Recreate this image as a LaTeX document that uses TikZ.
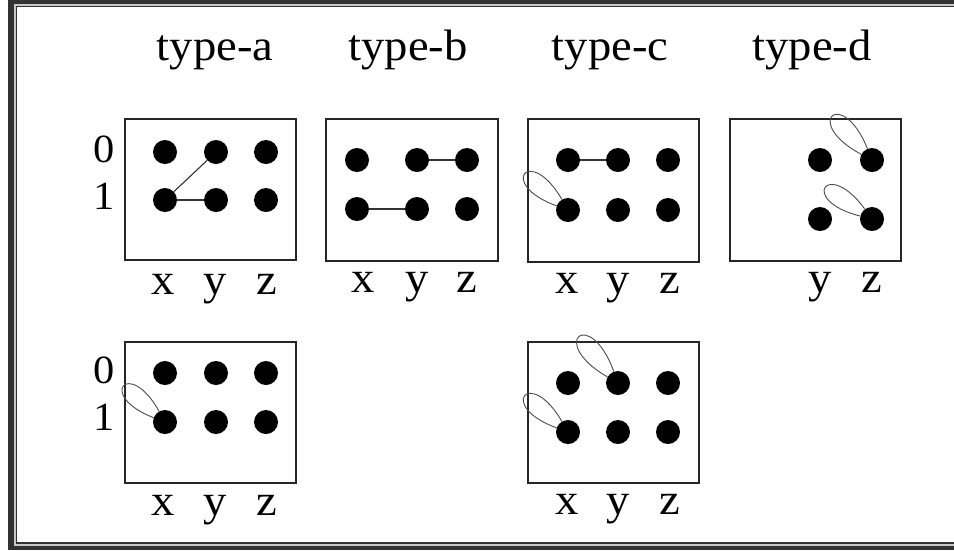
\documentclass[tikz,border=0pt]{standalone}
\usepackage{fontspec}
\newfontfamily\lblfont[FakeStretch=1.06]{Liberation Serif}
\definecolor{framedark}{HTML}{333333}
\definecolor{framelight}{HTML}{C8C8C8}
\begin{document}
\begin{tikzpicture}[x=1pt,y=-1pt,
  dot/.style={circle,fill=black,inner sep=0pt,minimum size=24pt},
  box/.style={draw=black!85,line width=1.4pt},
  link/.style={draw=black!80,line width=1.1pt},
  lp/.style={draw=black!70,line width=0.9pt},
  ttl/.style={font=\lblfont\fontsize{44}{44}\selectfont,anchor=base,inner sep=0pt},
  axl/.style={font=\lblfont\fontsize{44}{44}\selectfont,anchor=base,inner sep=0pt},
  dig/.style={font=\lblfont\fontsize{40}{40}\selectfont,anchor=base,inner sep=0pt}]
\useasboundingbox (0,0) rectangle (954,550);
% frame
\fill[white] (0,0) rectangle (954,550);
\fill[framedark] (8,0) rectangle (954,550);
\fill[framelight] (14,4) rectangle (954,545.5);
\fill[framedark] (15.5,5.8) rectangle (954,543.6);
\fill[white] (17,7.2) rectangle (954,542.2);
% titles
\node[ttl] (ta) at (215,60) {type-a};
\node[ttl] (tb) at (408,60) {type-b};
\node[ttl] (tc) at (610,60) {type-c};
\node[ttl] (td) at (812,60) {type-d};
% boxes
\draw[box] (125,119) rectangle (296,260);
\draw[box] (326,119) rectangle (498,261);
\draw[box] (528,119) rectangle (699,262);
\draw[box] (730,119) rectangle (901,261);
\draw[box] (125,342) rectangle (296,483);
\draw[box] (528,342) rectangle (699,483);
% digits
\node[dig] (a0) at (104,162) {0};
\node[dig] (a1) at (104,209) {1};
\node[dig] (e0) at (104,383) {0};
\node[dig] (e1) at (104,430) {1};
% axis labels
\node[axl] (alx) at (163,294) {x};
\node[axl] (aly) at (215,294) {y};
\node[axl] (alz) at (267,294) {z};
\node[axl] (blx) at (363,292) {x};
\node[axl] (bly) at (417,292) {y};
\node[axl] (blz) at (467,292) {z};
\node[axl] (clx) at (567,293) {x};
\node[axl] (cly) at (618,293) {y};
\node[axl] (clz) at (670,293) {z};
\node[axl] (dly) at (820,292) {y};
\node[axl] (dlz) at (872,292) {z};
\node[axl] (elx) at (163,515) {x};
\node[axl] (ely) at (215,515) {y};
\node[axl] (elz) at (267,515) {z};
\node[axl] (flx) at (567,514) {x};
\node[axl] (fly) at (618,514) {y};
\node[axl] (flz) at (670,514) {z};
% dots type-a
\node[dot] (ax0) at (165,152) {};
\node[dot] (ay0) at (216,152) {};
\node[dot] (az0) at (266,152) {};
\node[dot] (ax1) at (165,200) {};
\node[dot] (ay1) at (216,200) {};
\node[dot] (az1) at (266,200) {};
% dots type-b
\node[dot] (bx0) at (357,160) {};
\node[dot] (by0) at (417,160) {};
\node[dot] (bz0) at (467,160) {};
\node[dot] (bx1) at (357,209) {};
\node[dot] (by1) at (417,209) {};
\node[dot] (bz1) at (467,209) {};
% dots type-c
\node[dot] (cx0) at (568,160) {};
\node[dot] (cy0) at (618,160) {};
\node[dot] (cz0) at (668,160) {};
\node[dot] (cx1) at (568,210) {};
\node[dot] (cy1) at (618,210) {};
\node[dot] (cz1) at (668,210) {};
% dots type-d
\node[dot] (dy0) at (820,160) {};
\node[dot] (dz0) at (872,160) {};
\node[dot] (dy1) at (820,219) {};
\node[dot] (dz1) at (872,219) {};
% dots bottom-left
\node[dot] (ex0) at (165,373) {};
\node[dot] (ey0) at (216,373) {};
\node[dot] (ez0) at (266,373) {};
\node[dot] (ex1) at (165,422) {};
\node[dot] (ey1) at (216,422) {};
\node[dot] (ez1) at (266,422) {};
% dots bottom-c
\node[dot] (fx0) at (568,383) {};
\node[dot] (fy0) at (618,383) {};
\node[dot] (fz0) at (668,383) {};
\node[dot] (fx1) at (568,432) {};
\node[dot] (fy1) at (618,432) {};
\node[dot] (fz1) at (668,432) {};
% links
\draw[link] (ax1) -- (ay0);
\draw[link] (ax1) -- (ay1);
\draw[link] (by0) -- (bz0);
\draw[link] (bx1) -- (by1);
\draw[link] (cx0) -- (cy0);
% loops
\draw[lp] (cx1) to[out=160,in=120,distance=64pt] (cx1);
\draw[lp] (ex1) to[out=159,in=119,distance=62pt] (ex1);
\draw[lp] (fx1) to[out=160,in=120,distance=64pt] (fx1);
\draw[lp] (fy0) to[out=150,in=110,distance=70pt] (fy0);
\draw[lp] (dz0) to[out=152,in=112,distance=68pt] (dz0);
\draw[lp] (dz1) to[out=166,in=126,distance=64pt] (dz1);
\end{tikzpicture}
\end{document}
